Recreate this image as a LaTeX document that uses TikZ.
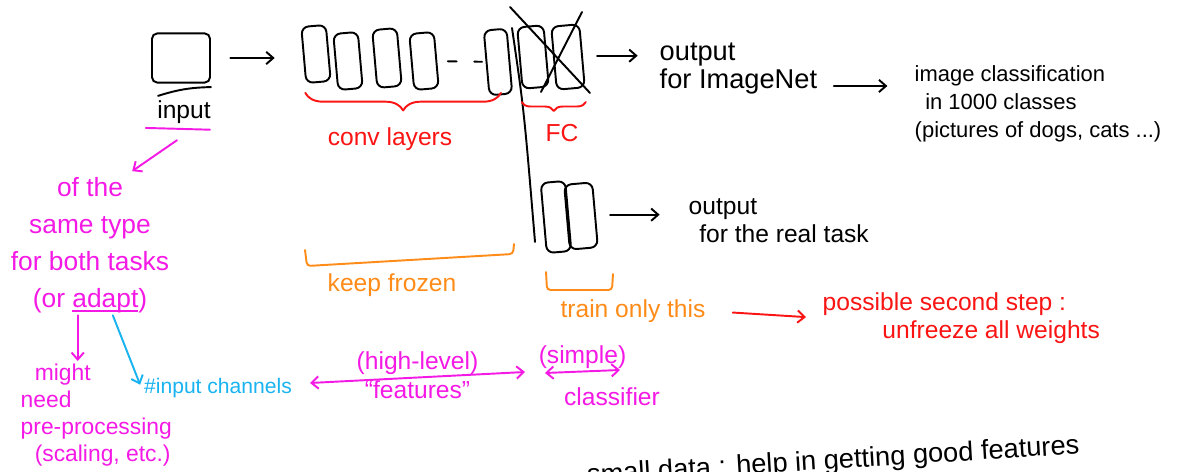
\documentclass[tikz,border=0pt]{standalone}
\usepackage{fontspec}
\setmainfont{Liberation Sans}
\newcommand\penline[1]{\setbox0\hbox{#1}\rlap{\rule[-3pt]{\wd0}{1.1pt}}#1}
\usetikzlibrary{positioning,arrows.meta,decorations.pathreplacing}
\definecolor{penred}{RGB}{250,20,20}
\definecolor{penpink}{RGB}{245,25,230}
\definecolor{penorange}{RGB}{255,140,25}
\definecolor{pencyan}{RGB}{25,180,240}
\begin{document}
\begin{tikzpicture}[x=0.02cm, y=-0.02cm, line width=1.1pt, line cap=round, line join=round,
    >={Straight Barb[length=4pt,width=7pt]},
    layer/.style={draw, rounded corners=4pt, rotate=5, inner sep=0pt, minimum width=14pt, minimum height=32pt},
    txt/.style={font=\fontsize{14}{16}\selectfont, align=left, inner sep=1pt},
    brc/.style={decorate, decoration={brace, mirror, amplitude=#1}}]
  \useasboundingbox[fill=white] (0,0) rectangle (1185,472);
  \node[draw, rounded corners=3pt, minimum width=33pt, minimum height=28pt] (in) at (181,58) {};
  \draw ([shift={(4pt,-7pt)}]in.south west) to[bend left=8] ([shift={(0pt,-2pt)}]in.south east);
  \node[txt] (inlab) at (184,112) {input};
  \draw[penpink] ([shift={(-5pt,-1pt)}]inlab.south west) -- ([shift={(-2pt,-2pt)}]inlab.south east);
  \node[layer] (conv1) at (316,54) {};
  \node[layer] (conv2) at (348,61) {};
  \node[layer, minimum height=33pt] (conv3) at (387,58) {};
  \node[layer] (conv4) at (424,61) {};
  \node[layer, minimum width=13pt, minimum height=37pt] (conv5) at (498,62) {};
  \node[layer, minimum width=15pt, minimum height=35pt] (fc1) at (533,57) {};
  \node[layer, minimum width=16pt, minimum height=36pt] (fc2) at (568,57) {};
  \node[layer, minimum height=40pt] (new1) at (556,217) {};
  \node[layer, minimum width=16pt, minimum height=37pt] (new2) at (581,216) {};
  \draw[->, shorten <=11pt, shorten >=16pt] (in.east) -- (in.east -| conv1.west);
  \draw[dash pattern=on 5pt off 10pt, shorten <=6pt, shorten >=2pt] (conv4) -- (conv5);
  \coordinate (splitT) at (512,28);
  \coordinate (splitB) at (535,242);
  \draw (splitT) .. controls (524,110) .. (splitB);
  \draw (510,7) -- (590,93);
  \draw (582,12) -- (541,92);
  \node[txt, anchor=north west, font=\fontsize{15.5}{16}\selectfont] (outIN) at (657,40) {output\\for ImageNet};
  \node[txt, anchor=north west, font=\fontsize{12.5}{16}\selectfont] (cls) at (912,63) {image classification\\\hspace*{6pt}in 1000 classes\\(pictures of dogs, cats ...)};
  \node[txt, anchor=north west] (outRT) at (686,196) {output\\\hspace*{6pt}for the real task};
  \draw[->, shorten <=8pt, shorten >=11pt] (fc2.east) -- (fc2.east -| outIN.west);
  \draw[->, shorten <=8pt, shorten >=14pt] ([yshift=-10pt]outIN.east) -- ([yshift=-10pt]outIN.east -| cls.west);
  \draw[->, shorten <=8pt, shorten >=15pt] (new2.east) -- (new2.east -| outRT.west);
  \draw[penred, brc=10pt] ([yshift=-5pt]conv1.south west) -- ([yshift=-5pt]conv1.south west -| conv5.south);
  \node[txt, penred] (convlab) at (390,139) {conv layers};
  \draw[penred, brc=5pt] ([yshift=-7pt]fc1.south west) -- ([yshift=-7pt]fc1.south west -| fc2.south east);
  \node[txt, penred] (fclab) at (562,133) {FC};
  \draw[penorange, rounded corners=2pt] (305,250) -- (307,266) -- (513,254) -- (514,244);
  \node[txt, penorange] (frozen) at (392,285) {keep frozen};
  \draw[penorange, rounded corners=2pt] (546,272) -- (547,290) -- (612,290) -- (613,274);
  \node[txt, penorange] (train) at (633,311) {train only this};
  \node[txt, penred, anchor=west] (second) at (820,318) {possible second step :\\\hspace*{34pt}unfreeze all weights};
  \draw[penred, ->, shorten <=14pt, shorten >=8pt] (train.east) -- (second.west);
  \node[txt, penpink, align=center, font=\fontsize{15}{21}\selectfont] (same) at (90,245) {of the\\same type\\for both tasks\\(or \penline{adapt})};
  \draw[penpink, ->] ([shift={(-4pt,-8pt)}]inlab.south) -- ([xshift=24pt, yshift=2pt]same.north);
  \node[txt, penpink, anchor=north west, font=\fontsize{13}{15.5}\selectfont] (might) at (18,361) {\hspace*{8pt}might\\need\\pre-processing\\\hspace*{8pt}(scaling, etc.)};
  \draw[penpink, ->] ([xshift=-7pt]same.south) -- ([xshift=-7pt]same.south |- might.north);
  \node[txt, pencyan, font=\fontsize{12}{14}\selectfont] (chan) at (218,388) {\#input channels};
  \draw[pencyan, ->, shorten >=2pt] ([xshift=13pt]same.south) -- (chan.west);
  \coordinate (featL) at (310,383);
  \coordinate (featR) at (525,372);
  \draw[penpink, <->] (featL) -- node[above, txt] {(high-level)} node[below, txt] {``features''} (featR);
  \coordinate (clfL) at (545,373);
  \coordinate (clfR) at (620,370);
  \draw[penpink, <->] (clfL) -- node[above, txt] {(simple)} (clfR);
  \node[txt, penpink] (clf) at (612,397) {classifier};
  \node[txt, rotate=3.5, anchor=base west, font=\fontsize{15.5}{16}\selectfont] (small) at (585,484) {small data : help in getting good features};
\end{tikzpicture}
\end{document}
